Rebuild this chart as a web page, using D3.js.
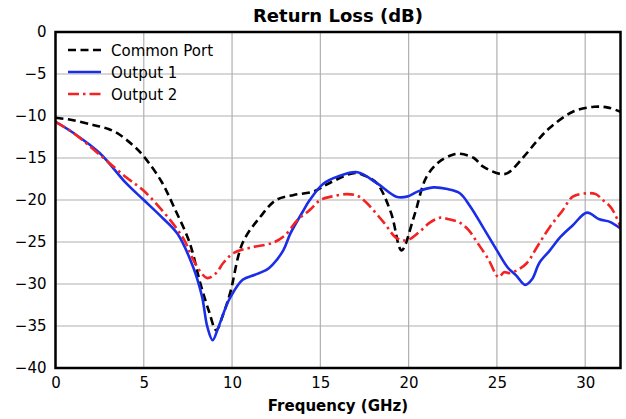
<!DOCTYPE html>
<html>
<head>
<meta charset="utf-8">
<script src="https://cdn.jsdelivr.net/npm/d3@7"></script>
<style>
  body { margin: 0; background: #fff; }
  svg { font-family: "DejaVu Sans", sans-serif; }
</style>
</head>
<body>
<div id="chart"></div>
<script>
// Data (GHz, dB)
const commonFreq = [0, 1, 2, 2.5, 3, 3.5, 4, 4.5, 5, 6, 6.7, 7.6, 8.2, 8.7, 9.1, 9.5, 9.9, 10.6, 11.6, 12.5, 13.5, 14.6, 15.5, 16.9, 17.5, 18.2, 19, 19.6, 20.3, 21, 21.7, 22.5, 22.9, 23.7, 24.2, 25.2, 25.6, 26.5, 27.3, 28, 29.3, 30.5, 31.3, 32];
const commonLoss = [-10.2, -10.5, -11.0, -11.25, -11.55, -12.05, -12.8, -13.7, -14.8, -17.8, -20.8, -25.1, -29.9, -33.3, -35.5, -33.6, -31.0, -25.1, -22.0, -20.0, -19.4, -19.0, -18.0, -16.8, -17.1, -18.0, -21.5, -26.0, -22.0, -17.3, -15.5, -14.6, -14.5, -15.0, -16.0, -16.9, -16.8, -14.9, -12.9, -11.4, -9.5, -8.9, -9.0, -9.5];

const out1Freq = [0, 1, 2.5, 4, 5, 6, 6.9, 7.8, 8.3, 8.6, 8.9, 9.2, 9.6, 9.9, 10.6, 11.3, 11.97, 12.3, 12.9, 13.3, 14.0, 14.4, 15.2, 16, 17.1, 18.2, 19.3, 19.9, 20.5, 21.4, 22.2, 22.9, 23.5, 24.2, 25, 25.6, 26.1, 26.6, 27, 27.4, 28, 28.6, 29.3, 30.1, 30.8, 31.4, 32];
const out1Loss = [-10.7, -12.0, -14.4, -18.0, -20.0, -22.0, -24.0, -28.0, -31.5, -35.1, -36.7, -35.3, -33.0, -31.6, -29.5, -28.9, -28.3, -27.7, -26.0, -24.0, -21.4, -20.0, -18.0, -17.2, -16.7, -18.0, -19.6, -19.6, -19.0, -18.5, -18.7, -19.2, -20.8, -23.2, -26.0, -28.0, -29.0, -30.1, -29.4, -27.5, -26.0, -24.4, -23.0, -21.5, -22.3, -22.6, -23.4];

const out2Freq = [0, 1, 2.5, 4, 5, 6.5, 7.3, 7.8, 8.3, 8.6, 9.1, 9.5, 10.1, 11.2, 12.3, 13.0, 13.7, 14.4, 15.0, 15.6, 16.5, 17.1, 17.6, 18.6, 19.3, 19.9, 20.6, 21.2, 21.8, 22.3, 22.9, 23.4, 23.9, 24.5, 25.1, 25.4, 25.7, 26.2, 26.7, 27.3, 28, 28.7, 29.3, 30.1, 30.6, 31, 31.5, 32];
const out2Loss = [-10.7, -12.0, -14.6, -17.3, -18.9, -22.4, -24.8, -27.1, -28.8, -29.3, -28.7, -27.5, -26.3, -25.6, -25.1, -24.2, -22.4, -21.2, -20.0, -19.6, -19.3, -19.5, -20.3, -22.7, -24.5, -24.8, -23.8, -22.7, -22.1, -22.3, -22.7, -23.6, -25.1, -27.0, -29.2, -28.6, -28.7, -28.3, -27.5, -25.5, -23.2, -21.3, -19.6, -19.2, -19.3, -20.0, -21.0, -23.2];

const xTicks = [0, 5, 10, 15, 20, 25, 30];
const yTicks = [0, -5, -10, -15, -20, -25, -30, -35, -40];

const series = [
    {name: 'Common Port', freq: commonFreq, loss: commonLoss, color: '#000000', dash: '8,4.5'},
    {name: 'Output 1', freq: out1Freq, loss: out1Loss, color: '#1a2ee8', dash: null},
    {name: 'Output 2', freq: out2Freq, loss: out2Loss, color: '#f52222', dash: '11,4,2.5,4'}
];

const width = 626, height = 419;
const margin = {top: 32, right: 5.5, bottom: 51, left: 55.5};

const svg = d3.select('#chart')
    .append('svg')
    .attr('width', width)
    .attr('height', height);

const x = d3.scaleLinear()
    .domain([0, 32])
    .range([margin.left, width - margin.right]);

const y = d3.scaleLinear()
    .domain([-40, 0])
    .range([height - margin.bottom, margin.top]);

// Grid lines
svg.append('g')
    .selectAll('line')
    .data(xTicks)
    .enter()
    .append('line')
    .attr('x1', d => x(d))
    .attr('x2', d => x(d))
    .attr('y1', margin.top)
    .attr('y2', height - margin.bottom)
    .attr('stroke', '#b0b0b0')
    .attr('stroke-width', 1.2);

svg.append('g')
    .selectAll('line')
    .data(yTicks)
    .enter()
    .append('line')
    .attr('x1', margin.left)
    .attr('x2', width - margin.right)
    .attr('y1', d => y(d))
    .attr('y2', d => y(d))
    .attr('stroke', '#b0b0b0')
    .attr('stroke-width', 1.2);

// Axes (labels only, no tick marks)
const minusFmt = d => d < 0 ? '\u2212' + Math.abs(d) : String(d);

svg.append('g')
    .attr('transform', `translate(0,${height - margin.bottom})`)
    .call(d3.axisBottom(x).tickValues(xTicks).tickSize(0).tickPadding(9).tickFormat(minusFmt))
    .call(g => g.select('.domain').remove())
    .call(g => g.selectAll('text').attr('font-size', '15px').attr('fill', '#000').attr('font-family', 'DejaVu Sans'));

svg.append('g')
    .attr('transform', `translate(${margin.left},0)`)
    .call(d3.axisLeft(y).tickValues(yTicks).tickSize(0).tickPadding(9).tickFormat(minusFmt))
    .call(g => g.select('.domain').remove())
    .call(g => g.selectAll('text').attr('font-size', '15px').attr('fill', '#000').attr('font-family', 'DejaVu Sans'));

// Lines
svg.append('clipPath').attr('id', 'plot-clip')
    .append('rect')
    .attr('x', margin.left)
    .attr('y', margin.top)
    .attr('width', width - margin.left - margin.right)
    .attr('height', height - margin.top - margin.bottom);

const line = d3.line()
    .x(d => x(d[0]))
    .y(d => y(d[1]))
    .curve(d3.curveCatmullRom.alpha(0.5));

const plot = svg.append('g').attr('clip-path', 'url(#plot-clip)');
series.forEach(s => {
    plot.append('path')
        .datum(s.freq.map((f, i) => [f, s.loss[i]]))
        .attr('fill', 'none')
        .attr('stroke', s.color)
        .attr('stroke-width', 2.6)
        .attr('stroke-dasharray', s.dash)
        .attr('d', line);
});

// Frame
svg.append('rect')
    .attr('x', margin.left)
    .attr('y', margin.top)
    .attr('width', width - margin.left - margin.right)
    .attr('height', height - margin.top - margin.bottom)
    .attr('fill', 'none')
    .attr('stroke', '#000')
    .attr('stroke-width', 2.5);

// Title and x label
svg.append('text')
    .attr('x', (margin.left + width - margin.right) / 2)
    .attr('y', 22)
    .attr('text-anchor', 'middle')
    .attr('font-size', '18px')
    .attr('font-weight', 'bold')
    .text('Return Loss (dB)');

svg.append('text')
    .attr('x', (margin.left + width - margin.right) / 2)
    .attr('y', 411)
    .attr('text-anchor', 'middle')
    .attr('font-size', '15px')
    .attr('font-weight', 'bold')
    .text('Frequency (GHz)');

// Legend
const legend = svg.append('g')
    .attr('transform', `translate(68,50)`);
series.forEach((s, i) => {
    const item = legend.append('g')
        .attr('transform', `translate(0,${i * 22})`);
    item.append('line')
        .attr('x1', 0)
        .attr('x2', 33)
        .attr('y1', 0)
        .attr('y2', 0)
        .attr('stroke', s.color)
        .attr('stroke-width', 2.6)
        .attr('stroke-dasharray', s.dash);
    item.append('text')
        .attr('x', 43)
        .attr('y', 5.5)
        .attr('font-size', '15px')
        .text(s.name);
});
</script>
</body>
</html>
